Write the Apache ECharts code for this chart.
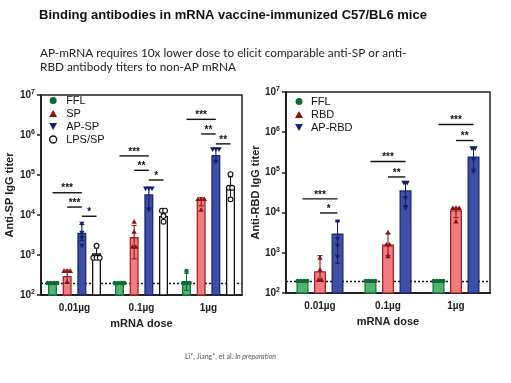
<!DOCTYPE html>
<html><head><meta charset="utf-8">
<script src="https://cdn.jsdelivr.net/npm/echarts@6/dist/echarts.min.js"></script>
<style>html,body{margin:0;padding:0;background:#fff}#c{width:511px;height:383px}</style>
</head><body><div id="c"></div>
<script>
// ---------- DATA ----------
const doses = ['0.01µg', '0.1µg', '1µg'];

// Anti-SP chart
const spNames = ['FFL', 'SP', 'AP-SP', 'LPS/SP'];
const spFFL = [200, 200, 215];
const spSP = [300, 2800, 24000];
const spAPSP = [3600, 33000, 316000];
const spLPS = [1100, 9400, 50000];
const spFFLErr = [[200, 200], [200, 200], [130, 350]];
const spSPErr = [[200, 420], [800, 5500], [17000, 27000]];
const spAPSPErr = [[2300, 5800], [15000, 48000], [220000, 460000]];
const spLPSErr = [[800, 1500], [7000, 13000], [27000, 90000]];
const spFFLPts = [[200, 200, 200, 200], [200, 200, 200, 200], [400, 200, 200, 200]];
const spSPPts = [[400, 400, 400, 210], [6800, 3800, 1600, 1600], [25000, 25000, 25000, 13500]];
const spAPSPPts = [[6000, 3600, 2700, 1700], [46000, 46000, 46000, 13500], [440000, 440000, 440000, 215000]];
const spLPSPts = [[1700, 850, 850, 850], [12800, 12800, 9400, 6800], [105000, 48000, 48000, 24600]];
// [dose index, from bar, to bar, height, label]
const spBrackets = [
  [0, 0, 2, 36000, '***'], [0, 1, 2, 15800, '***'], [0, 2, 3, 9300, '*'],
  [1, 0, 2, 300000, '***'], [1, 1, 2, 131000, '**'], [1, 2, 3, 75000, '*'],
  [2, 0, 2, 2460000, '***'], [2, 1, 2, 1060000, '**'], [2, 2, 3, 600000, '**']
];

// Anti-RBD chart
const rbdNames = ['FFL', 'RBD', 'AP-RBD'];
const rbdFFL = [200, 200, 200];
const rbdRBD = [350, 1600, 11500];
const rbdAPRBD = [3000, 36000, 250000];
const rbdFFLErr = [[200, 200], [200, 200], [200, 200]];
const rbdRBDErr = [[200, 850], [850, 3000], [7500, 13000]];
const rbdAPRBDErr = [[550, 6000], [15000, 55000], [120000, 400000]];
const rbdFFLPts = [[200, 200, 200, 200], [200, 200, 200, 200], [200, 200, 200, 200]];
const rbdRBDPts = [[750, 380, 210, 210], [3200, 1600, 1600, 820], [13000, 13000, 13000, 6000]];
const rbdAPRBDPts = [[6000, 2200, 1500, 800], [55000, 55000, 23000, 13000], [400000, 400000, 210000, 105000]];
const rbdBrackets = [
  [0, 0, 2, 22000, '***'], [0, 1, 2, 9800, '*'],
  [1, 0, 2, 187000, '***'], [1, 1, 2, 77000, '**'],
  [2, 0, 2, 1550000, '***'], [2, 1, 2, 620000, '**']
];
const detectionLimit = 200;

// ---------- STYLE ----------
const STY = {
  'FFL':    {fill: '#53b372', stroke: '#16753a', dot: '#0e6a2d', sym: 'circle'},
  'SP':     {fill: '#f27d80', stroke: '#a82424', dot: '#8c1212', sym: 'up'},
  'RBD':    {fill: '#f27d80', stroke: '#a82424', dot: '#8c1212', sym: 'up'},
  'AP-SP':  {fill: '#3d4fa6', stroke: '#1b2773', dot: '#17206a', sym: 'down'},
  'AP-RBD': {fill: '#3d4fa6', stroke: '#1b2773', dot: '#17206a', sym: 'down'},
  'LPS/SP': {fill: '#ffffff', stroke: '#111111', dot: '#111111', sym: 'open'}
};
const FONT = 'Liberation Sans';

function symbolShape(sym, x, y, sty) {
  if (sym === 'circle') return {type: 'circle', shape: {cx: x, cy: y, r: 2.2}, style: {fill: sty.dot}};
  if (sym === 'open') return {type: 'circle', shape: {cx: x, cy: y, r: 2.4}, style: {fill: '#fff', stroke: '#111', lineWidth: 1.1}};
  if (sym === 'up') return {type: 'polygon', shape: {points: [[x, y - 2.7], [x - 2.6, y + 2]], concat: null}, style: {fill: sty.dot}};
  return null;
}
function shapeFor(sym, x, y, sty) {
  if (sym === 'up') return {type: 'polygon', shape: {points: [[x, y - 2.7], [x - 2.6, y + 2], [x + 2.6, y + 2]]}, style: {fill: sty.dot}};
  if (sym === 'down') return {type: 'polygon', shape: {points: [[x - 2.6, y - 2], [x + 2.6, y - 2], [x, y + 2.7]]}, style: {fill: sty.dot}};
  return symbolShape(sym, x, y, sty);
}

function pointsRender(offset, sty) {
  return function (params, api) {
    const cat = api.value(0);
    const c = api.coord([cat, api.value(1)]);
    const x = c[0] + offset;
    const lo = api.coord([cat, api.value(2)])[1];
    const hi = api.coord([cat, api.value(3)])[1];
    const children = [];
    if (lo - hi > 0.5) {
      children.push({type: 'line', shape: {x1: x, y1: lo, x2: x, y2: hi}, style: {stroke: sty.dot, lineWidth: 1.1}});
      children.push({type: 'line', shape: {x1: x - 2.5, y1: lo, x2: x + 2.5, y2: lo}, style: {stroke: sty.dot, lineWidth: 1.1}});
      children.push({type: 'line', shape: {x1: x - 2.5, y1: hi, x2: x + 2.5, y2: hi}, style: {stroke: sty.dot, lineWidth: 1.1}});
    }
    const ys = [];
    for (let k = 4; k < 8; k++) ys.push(api.coord([cat, api.value(k)])[1]);
    const used = ys.map(() => false);
    for (let i = 0; i < ys.length; i++) {
      if (used[i]) continue;
      const cl = [];
      for (let j = i; j < ys.length; j++) if (!used[j] && Math.abs(ys[j] - ys[i]) < 2.5) { cl.push(j); used[j] = true; }
      cl.forEach((j, m) => {
        const px = x + (m - (cl.length - 1) / 2) * 3.2;
        children.push(shapeFor(sty.sym, px, ys[j], sty));
      });
    }
    return {type: 'group', children};
  };
}

function bracketRender(offsets, brackets) {
  return function (params, api) {
    const cat = api.value(0), a = api.value(1), b = api.value(2), v = api.value(3);
    const p = api.coord([cat, v]);
    const x1 = p[0] + offsets[a], x2 = p[0] + offsets[b];
    return {type: 'group', children: [
      {type: 'line', shape: {x1, y1: p[1], x2, y2: p[1]}, style: {stroke: '#111', lineWidth: 1.4}},
      {type: 'text', style: {x: (x1 + x2) / 2, y: p[1] + 1, text: brackets[params.dataIndex][4], textAlign: 'center', textVerticalAlign: 'bottom',
        fontSize: 10, fontWeight: 'bold', fontFamily: FONT, fill: '#111'}}
    ]};
  };
}

function buildSeries(axisIdx, names, means, errs, pts, brackets, barW, gap) {
  const n = names.length;
  const step = barW * (1 + gap);
  const offsets = names.map((_, i) => (i - (n - 1) / 2) * step);
  const series = [];
  names.forEach((nm, i) => {
    const s = STY[nm];
    const bar = {
      type: 'bar', name: nm, xAxisIndex: axisIdx, yAxisIndex: axisIdx,
      data: means[i], barWidth: barW, barGap: (gap * 100) + '%',
      itemStyle: {color: s.fill, borderColor: s.stroke, borderWidth: 1.3},
      z: 2, silent: true
    };
    if (i === 0) {
      bar.markLine = {silent: true, symbol: 'none', data: [{yAxis: detectionLimit}],
        lineStyle: {type: [2, 2], color: '#111', width: 1.4}, label: {show: false}, z: 1};
    }
    series.push(bar);
  });
  names.forEach((nm, i) => {
    series.push({
      type: 'custom', name: nm + ' pts', xAxisIndex: axisIdx, yAxisIndex: axisIdx, z: 4, silent: true,
      renderItem: pointsRender(offsets[i], STY[nm]),
      encode: {x: 0, y: 1},
      data: doses.map((d, c) => [c, means[i][c], errs[i][c][0], errs[i][c][1]].concat(pts[i][c]))
    });
  });
  series.push({
    type: 'custom', name: 'brackets' + axisIdx, xAxisIndex: axisIdx, yAxisIndex: axisIdx, z: 5, silent: true,
    renderItem: bracketRender(offsets, brackets), encode: {x: 0, y: 3},
    data: brackets.map(b => [b[0], b[1], b[2], b[3]])
  });
  return series;
}

function xAxisCfg(idx) {
  return {
    type: 'category', gridIndex: idx, data: doses,
    axisLine: {lineStyle: {color: '#222', width: 2}},
    axisTick: {alignWithLabel: true, length: 4, lineStyle: {color: '#222', width: 1.5}},
    axisLabel: {fontFamily: FONT, fontWeight: 'bold', fontSize: 10, color: '#222', margin: 8},
    name: 'mRNA dose', nameLocation: 'middle', nameGap: 23,
    nameTextStyle: {fontFamily: FONT, fontWeight: 'bold', fontSize: 11, color: '#222'}
  };
}
function yAxisCfg(idx, name, gapName) {
  return {
    type: 'log', logBase: 10, gridIndex: idx, min: 100, max: 10000000,
    splitLine: {show: false},
    axisLine: {show: true, lineStyle: {color: '#222', width: 2}},
    axisTick: {show: true, length: 4, lineStyle: {color: '#222', width: 1.5}},
    axisLabel: {
      fontFamily: FONT, fontWeight: 'bold', fontSize: 10, color: '#222', margin: 6,
      formatter: v => '10{s|' + Math.round(Math.log10(v)) + '}',
      rich: {s: {fontFamily: FONT, fontWeight: 'bold', fontSize: 7, color: '#222', verticalAlign: 'bottom', padding: [0, 0, 6, 0]}}
    },
    name: name, nameLocation: 'middle', nameGap: gapName, nameRotate: 90,
    nameTextStyle: {fontFamily: FONT, fontWeight: 'bold', fontSize: 11, color: '#222'}
  };
}

function legendCfg(names, left, top, textPad) {
  return {
    orient: 'vertical', left: left, top: top, itemWidth: 8, itemHeight: 7, itemGap: 2, padding: 0,
    selectedMode: false,
    textStyle: {fontFamily: FONT, fontSize: 11, color: '#111', padding: [0, 0, 0, textPad]},
    data: names.map(nm => {
      const s = STY[nm];
      if (s.sym === 'circle') return {name: nm, icon: 'circle', itemStyle: {color: s.dot, borderWidth: 0}};
      if (s.sym === 'up') return {name: nm, icon: 'triangle', itemStyle: {color: s.dot, borderWidth: 0}};
      if (s.sym === 'down') return {name: nm, icon: 'path://M0,0L10,0L5,9Z', itemStyle: {color: s.dot, borderWidth: 0}};
      return {name: nm, icon: 'circle', itemStyle: {color: '#fff', borderColor: '#111', borderWidth: 1.3}};
    })
  };
}

const chart = echarts.init(document.getElementById('c'), null, {renderer: 'canvas'});
const series = [].concat(
  buildSeries(0, spNames, [spFFL, spSP, spAPSP, spLPS], [spFFLErr, spSPErr, spAPSPErr, spLPSErr],
    [spFFLPts, spSPPts, spAPSPPts, spLPSPts], spBrackets, 9, 0.63),
  buildSeries(1, rbdNames, [rbdFFL, rbdRBD, rbdAPRBD], [rbdFFLErr, rbdRBDErr, rbdAPRBDErr],
    [rbdFFLPts, rbdRBDPts, rbdAPRBDPts], rbdBrackets, 12, 0.46)
);

chart.setOption({
  backgroundColor: '#fff',
  animation: false,
  title: [
    {text: 'Binding antibodies in mRNA vaccine-immunized C57/BL6 mice', left: 39, top: 9, padding: 0,
      textStyle: {fontFamily: FONT, fontWeight: 'bold', fontSize: 13, color: '#111'}},
    {text: 'AP-mRNA requires 10x lower dose to elicit comparable anti-SP or anti-\nRBD antibody titers to non-AP mRNA',
      left: 40, top: 46, padding: 0,
      textStyle: {fontFamily: 'Lato', fontWeight: 'normal', fontSize: 11.8, lineHeight: 14, color: '#222'}},
    {text: 'Li*, Jiang*, et al. {i|In preparation}', left: 185, top: 353, padding: 0,
      textStyle: {fontFamily: 'Lato', fontWeight: 'normal', fontSize: 7, color: '#555',
        rich: {i: {fontFamily: 'Lato', fontStyle: 'italic', fontSize: 7, color: '#555'}}}}
  ],
  legend: [legendCfg(spNames, 49, 95, 4), legendCfg(rbdNames, 295, 96, 3)],
  grid: [
    {left: 41, top: 95, width: 201, height: 200, show: true, borderColor: '#222', borderWidth: 1.5},
    {left: 286, top: 92, width: 204, height: 201, show: true, borderColor: '#222', borderWidth: 1.5}
  ],
  xAxis: [xAxisCfg(0), xAxisCfg(1)],
  yAxis: [yAxisCfg(0, 'Anti-SP IgG titer', 26), yAxisCfg(1, 'Anti-RBD IgG titer', 24)],
  series: series
});
</script></body></html>
